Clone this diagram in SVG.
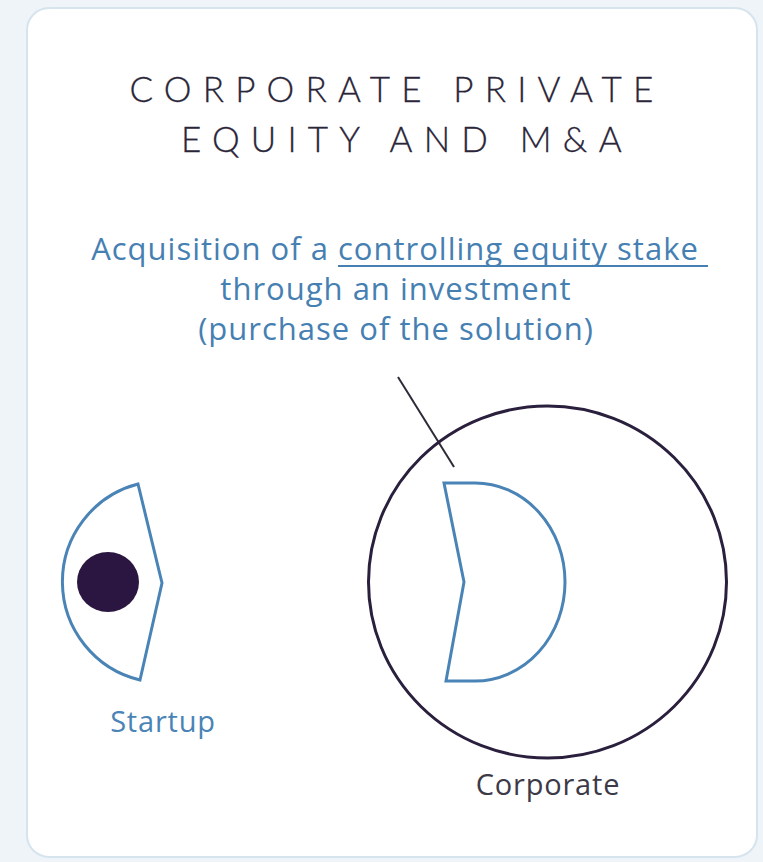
<svg xmlns="http://www.w3.org/2000/svg" width="763" height="862" viewBox="0 0 763 862">
<style>
.title{font-family:Lato,"Open Sans",sans-serif;font-weight:300;font-size:35px;letter-spacing:11.2px;fill:#2a2538;stroke:#2a2538;stroke-width:0.3px;text-anchor:middle}
.blue{font-family:"Open Sans","Noto Sans",sans-serif;font-size:31px;letter-spacing:1px;fill:#4680b2;text-anchor:middle}
.lbl{font-family:"Open Sans","Noto Sans",sans-serif;font-size:29px;letter-spacing:0.8px;text-anchor:middle}
.bshape{fill:none;stroke:#4a84b6;stroke-width:3;stroke-linejoin:miter}
</style>
<rect x="0" y="0" width="763" height="862" fill="#eef4f8"/>
<rect x="27" y="8" width="730" height="849" rx="22" fill="#ffffff" stroke="#d6e4ee" stroke-width="2"/>
<g id="title">
<text class="title" x="397" y="102">CORPORATE PRIVATE</text>
<text class="title" x="407" y="152">EQUITY AND M&amp;A</text>
</g>
<g id="annotation">
<text class="blue" x="395" y="260">Acquisition of a controlling equity stake</text>
<line x1="338" y1="266" x2="708" y2="266" stroke="#4680b2" stroke-width="2"/>
<text class="blue" x="396" y="300">through an investment</text>
<text class="blue" x="396" y="340">(purchase of the solution)</text>
</g>
<g id="connectors">
<line x1="398" y1="377" x2="454" y2="467" stroke="#2e2a38" stroke-width="2"/>
</g>
<g id="startup">
<path class="bshape" d="M138,484 A101,101 0 0 0 140,680 L162,583 Z"/>
<ellipse cx="108" cy="582" rx="31" ry="30" fill="#2a1640"/>
<text class="lbl" x="163" y="732" fill="#4a84b6">Startup</text>
</g>
<g id="corporate">
<ellipse cx="547.5" cy="582" rx="179" ry="176" fill="none" stroke="#2a1f3d" stroke-width="3"/>
<path class="bshape" d="M444,483 L475,483 A90,99 0 0 1 475,681 L446,681 L464,582 Z"/>
<text class="lbl" x="548" y="795" fill="#3d3a48">Corporate</text>
</g>
</svg>
